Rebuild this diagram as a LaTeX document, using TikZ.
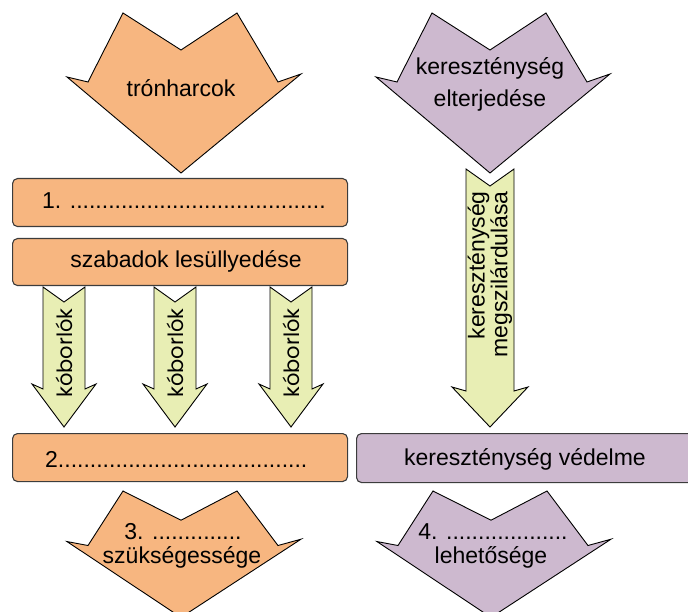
\documentclass[tikz,border=0pt]{standalone}
\usepackage{fontspec}
\setmainfont{Liberation Sans}
\newfontfamily\geofont{Poppins}
\definecolor{orng}{HTML}{F7B680}
\definecolor{lilac}{HTML}{CDB9CF}
\definecolor{pale}{HTML}{E8EEB4}
\definecolor{edgegray}{HTML}{3C3C3C}
\tikzset{
  boxshape/.style={draw=edgegray, line width=1.1pt, rounded corners=5pt},
  arrshape/.style={draw=black, line width=0.9pt, line join=miter},
  lbl/.style={font=\fontsize{23}{27}\selectfont, inner sep=0pt},
  kob/.style={font=\geofont\fontsize{21}{25}\selectfont, inner sep=0pt, rotate=90},
}
\newcommand\mychevron[4]{%
  \begin{scope}[shift={(#1,#2)}, yscale=#3]
    \draw[arrshape, fill=#4] (-58,0) -- (0,37) -- (56,0) -- (97,69) -- (120,61)
      -- (0,160) -- (-114,64) -- (-93,69) -- cycle;
  \end{scope}}
% cx, ytop, notch, halfshaft, yhead, halfwing, ywing, ytip
\newcommand\mygarrow[8]{%
  \draw[arrshape, fill=pale] (#1-#4,#2) -- (#1,#2+#3) -- (#1+#4,#2) -- (#1+#4,#5)
    -- (#1+#6,#7) -- (#1,#8) -- (#1-#6,#7) -- (#1-#4,#5) -- cycle;}
\begin{document}
\begin{tikzpicture}[x=1pt,y=-1pt]
\useasboundingbox (0,0) rectangle (688,612);
\clip (0,0) rectangle (688,612);
% top chevrons
\mychevron{181}{13}{1}{orng}
\mychevron{490}{13}{1}{lilac}
\node[lbl, anchor=base] (tron) at (181,97) {trónharcok};
\node[lbl, anchor=base] (kerA) at (490,75) {kereszténység};
\node[lbl, anchor=base] (kerB) at (490,107) {elterjedése};
% boxes
\node[boxshape, fill=orng, anchor=north west, minimum width=335pt, minimum height=48pt] (box1) at (12,178) {};
\node[boxshape, fill=orng, anchor=north west, minimum width=335pt, minimum height=47pt] (box2) at (12,238) {};
\node[lbl, anchor=base west] (n1) at (42,209) {1. ........................................};
\node[lbl, anchor=base] (n2) at (186,268) {szabadok lesüllyedése};
% green arrows
\mygarrow{64}{287}{15}{21}{389}{32}{384}{427}
\mygarrow{175}{287}{15}{21}{389}{32}{384}{427}
\mygarrow{291}{287}{15}{21}{389}{32}{384}{427}
\mygarrow{490}{169}{17}{24}{391}{38}{387}{427}
\node[kob] (kob1) at (64,353) {kóborlók};
\node[kob] (kob2) at (175,353) {kóborlók};
\node[kob] (kob3) at (291,353) {kóborlók};
\node[lbl, rotate=90, anchor=east, align=right, font=\fontsize{23}{20}\selectfont] (meg) at (490,191) {kereszténység\\megszilárdulása};
% lower boxes
\node[boxshape, fill=orng, anchor=north west, minimum width=335pt, minimum height=48pt] (box3) at (12,433) {};
\node[boxshape, fill=lilac, anchor=north west, minimum width=345pt, minimum height=49pt] (box4) at (356,433) {};
\node[lbl, anchor=base west] (n3) at (45,467) {2.......................................};
\node[lbl, anchor=base] (n4) at (525,465) {kereszténység védelme};
% bottom chevrons
\mychevron{181}{491}{0.79}{orng}
\mychevron{491}{491}{0.79}{lilac}
\node[lbl, anchor=base] (n5a) at (183,539) {3. ..............};
\node[lbl, anchor=base] (n5b) at (182,563) {szükségessége};
\node[lbl, anchor=base] (n6a) at (493,539) {4. ...................};
\node[lbl, anchor=base] (n6b) at (491,563) {lehetősége};
\end{tikzpicture}
\end{document}
